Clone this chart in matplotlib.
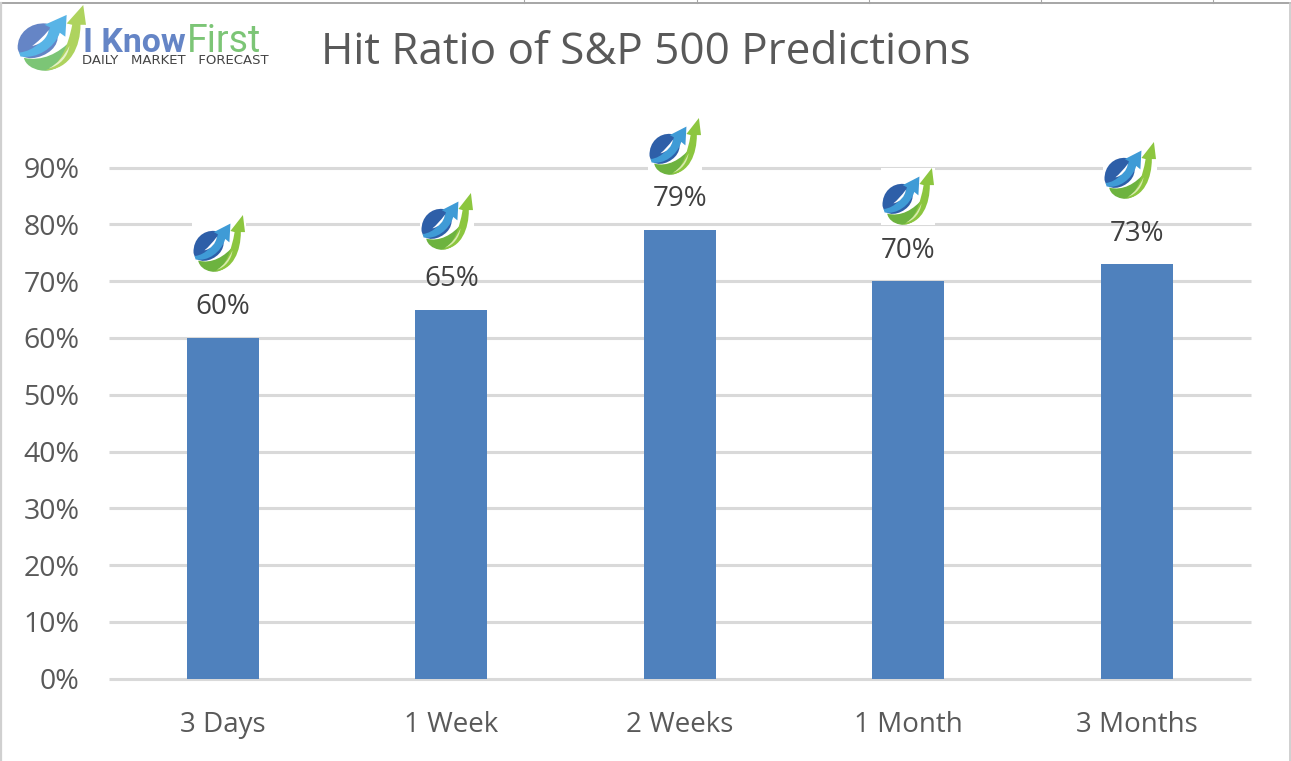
import matplotlib
matplotlib.use("Agg")
import matplotlib.pyplot as plt
from matplotlib.path import Path
from matplotlib.patches import PathPatch, Rectangle
from matplotlib.transforms import Affine2D
from matplotlib.lines import Line2D

categories = ["3 Days", "1 Week", "2 Weeks", "1 Month", "3 Months"]
hit_ratio = [60, 65, 79, 70, 73]
y_ticks = [0, 10, 20, 30, 40, 50, 60, 70, 80, 90]
title = "Hit Ratio of S&P 500 Predictions"

W, H = 1291, 761
plt.rcParams["font.family"] = ["Open Sans", "DejaVu Sans"]
fig = plt.figure(figsize=(W / 100, H / 100), dpi=100, facecolor="white")
ax = fig.add_axes([108.7 / W, 1 - 678.7 / H, (1251 - 108.7) / W, (678.7 - 167.5) / H])

x = list(range(len(categories)))
ax.set_axisbelow(True)
ax.bar(x, hit_ratio, width=0.315, color="#4F81BD", zorder=2)
ax.set_xlim(-0.5, 4.5)
ax.set_ylim(0, 90)
ax.set_yticks(y_ticks, [f"{v}%" for v in y_ticks])
ax.set_xticks(x, categories)
ax.grid(axis="y", color="#D9D9D9", linewidth=2.2)
for l in ax.get_ygridlines():
    l.set_clip_on(False)
    l.set_solid_capstyle("butt")
for s in ax.spines.values():
    s.set_visible(False)
ax.tick_params(axis="y", length=0, pad=21, labelsize=20.5, labelcolor="#595959")
ax.tick_params(axis="x", length=0, pad=23.5, labelsize=20, labelcolor="#595959")

for xi, v in zip(x, hit_ratio):
    ax.annotate(f"{v}%", (xi, v), xytext=(0, 22), textcoords="offset points",
                ha="center", va="center", fontsize=20, color="#404040", zorder=6)

fig.text(645.5 / W, 1 - 53 / H, title, ha="center", va="center",
         fontsize=31.7, color="#595959")


def unit_tf(px, py, w, h):
    return Affine2D().scale(w / W, -h / H).translate(px / W, 1 - py / H) + fig.transFigure


M, C, L, Z = Path.MOVETO, Path.CURVE4, Path.LINETO, Path.CLOSEPOLY
body = Path([(0.01, 0.66), (0.00, 0.42), (0.20, 0.26), (0.42, 0.28),
             (0.62, 0.32), (0.64, 0.55), (0.50, 0.68),
             (0.36, 0.82), (0.05, 0.88), (0.01, 0.66), (0, 0)],
            [M, C, C, C, C, C, C, C, C, C, Z])
blue_arrow = Path([(0.03, 0.72), (0.26, 0.70), (0.42, 0.50), (0.48, 0.34),
                   (0.40, 0.30), (0.72, 0.15), (0.70, 0.48), (0.62, 0.42),
                   (0.54, 0.66), (0.28, 0.82), (0.05, 0.78), (0, 0)],
                  [M, C, C, C, L, L, L, L, C, C, C, Z])
slit = Path([(0.22, 0.62), (0.30, 0.56), (0.38, 0.48), (0.46, 0.38),
             (0.44, 0.50), (0.34, 0.60), (0.22, 0.62), (0, 0)],
            [M, C, C, C, C, C, C, Z])
green_low = Path([(0.10, 0.80), (0.36, 0.86), (0.60, 0.74), (0.80, 0.52),
                  (0.84, 0.80), (0.58, 1.04), (0.34, 0.99),
                  (0.22, 0.97), (0.12, 0.90), (0.10, 0.80), (0, 0)],
                 [M, C, C, C, C, C, C, C, C, C, Z])
green_arrow = Path([(0.40, 0.99), (0.62, 0.94), (0.74, 0.62), (0.80, 0.30),
                    (0.72, 0.28), (0.96, 0.0), (1.0, 0.30), (0.92, 0.30),
                    (0.92, 0.62), (0.78, 0.98), (0.40, 0.99), (0, 0)],
                   [M, C, C, C, L, L, L, L, C, C, C, Z])
streak = Path([(0.46, 0.96), (0.60, 0.88), (0.68, 0.78), (0.76, 0.62),
               (0.74, 0.78), (0.62, 0.92), (0.46, 0.96), (0, 0)],
              [M, C, C, C, C, C, C, Z])


def logo(px, py, w, h, colors, backing=True):
    tf = unit_tf(px, py, w, h)
    if backing:
        fig.add_artist(Rectangle((-0.01, 1.0), 1.02, -1.0, transform=tf, fc="white",
                                 ec="none", zorder=4))
    paths = [green_low, body, blue_arrow, slit, green_arrow, streak]
    for path, col in zip(paths, colors):
        fig.add_artist(PathPatch(path, transform=tf, fc=col, ec="none", zorder=5))


dark = ["#6DB33F", "#2E5FA8", "#3F9BD6", "#FFFFFF", "#8CC63F", "#D8EBB0"]
light = ["#7CC576", "#6585C6", "#58B4E6", "#FFFFFF", "#AED35E", "#E6F2C8"]
logo_boxes = [(193, 215), (421, 193), (649, 118), (882, 168), (1104, 142)]
for bx, by in logo_boxes:
    logo(bx, by, 52, 57, dark)

logo(17, 5, 69, 66, light, backing=False)
fig.text(83 / W, 1 - 52.5 / H, "I Know", fontsize=24.3, fontweight="bold", color="#6585C6",
         family="Roboto", ha="left", va="baseline")
fig.text(187 / W, 1 - 52.5 / H, "First", fontsize=27, color="#7CC576",
         family="Roboto", ha="left", va="baseline")
fig.text(82 / W, 1 - 64.5 / H, "DAILY   MARKET   FORECAST", fontsize=9.5, color="#444444",
         family="DejaVu Sans", ha="left", va="baseline")

# Sheet frame and cell gridlines around the picture
frame = "#A6A6A6"
fig.add_artist(Line2D([0, 1], [1 - 2.5 / H] * 2, color=frame, lw=1.4, transform=fig.transFigure))
fig.add_artist(Line2D([1 / W] * 2, [0, 1 - 2.5 / H], color="#D0D0D0", lw=1.6, transform=fig.transFigure))
fig.add_artist(Line2D([1290 / W] * 2, [0, 1 - 2.5 / H], color="#C8C8C8", lw=1.2, transform=fig.transFigure))
for px in [524, 697, 869, 1041, 1213]:
    fig.add_artist(Line2D([px / W] * 2, [1 - 2.5 / H, 1], color=frame, lw=0.8, transform=fig.transFigure))

fig.savefig("out.png", dpi=100)
